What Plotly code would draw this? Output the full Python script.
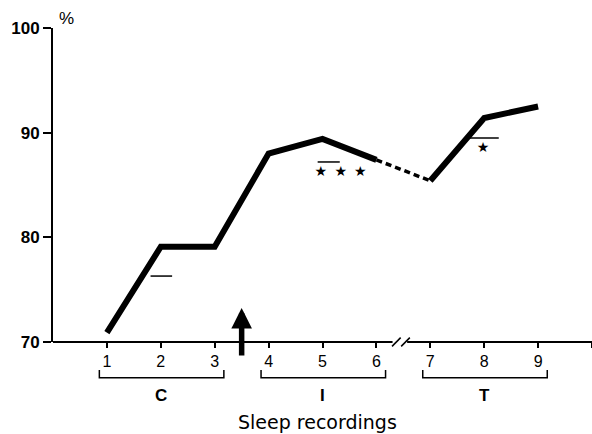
import plotly.graph_objects as go

# ---- data ----
recordings = [1, 2, 3, 4, 5, 6, 7, 8, 9]
values = [70.9, 79.1, 79.1, 88.0, 89.4, 87.4, 85.4, 91.4, 92.5]
tick_vals = [1, 2, 3, 4, 5, 6, 7, 8, 9, 10]
tick_text = ["1", "2", "3", "4", "5", "6", "7", "8", "9", ""]
y_ticks = [70, 80, 90, 100]
groups = ["C", "I", "T"]
group_start = [1, 4, 7]
group_end = [3, 6, 9]
sem_x0 = [1.81, 4.91, 7.68]
sem_x1 = [2.21, 5.32, 8.27]
sem_y = [76.3, 87.2, 89.5]
sig_x = [4.97, 5.34, 5.70, 7.98]
sig_y = [86.2, 86.2, 86.2, 88.5]
treatment_x = 3.5
break_x = 6.45

FONT = "Liberation Sans, Arial, sans-serif"

fig = go.Figure()

# solid part C+I
fig.add_trace(go.Scatter(x=recordings[:6], y=values[:6], mode="lines",
                         line=dict(color="black", width=6), cliponaxis=False,
                         hoverinfo="skip"))
# dashed gap across break
fig.add_trace(go.Scatter(x=recordings[5:7], y=values[5:7], mode="lines",
                         line=dict(color="black", width=3.5, dash="6px,4px"),
                         hoverinfo="skip"))
# solid part T
fig.add_trace(go.Scatter(x=recordings[6:], y=values[6:], mode="lines",
                         line=dict(color="black", width=6), cliponaxis=False,
                         hoverinfo="skip"))

# short horizontal reference marks
sx, sy = [], []
for a, b, y in zip(sem_x0, sem_x1, sem_y):
    sx += [a, b, None]
    sy += [y, y, None]
fig.add_trace(go.Scatter(x=sx, y=sy, mode="lines",
                         line=dict(color="black", width=1.5), hoverinfo="skip"))

# significance stars
fig.add_trace(go.Scatter(x=sig_x, y=sig_y, mode="text", text=["★"] * len(sig_x),
                         textfont=dict(family="DejaVu Sans", size=14, color="black"),
                         hoverinfo="skip"))

shapes = []
# x axis line with break
shapes.append(dict(type="line", xref="x", yref="paper", x0=0, x1=break_x - 0.15,
                   y0=0, y1=0, line=dict(color="black", width=2)))
shapes.append(dict(type="line", xref="x", yref="paper", x0=break_x + 0.12, x1=10,
                   y0=0, y1=0, line=dict(color="black", width=2)))
for off in (-0.08, 0.09):
    shapes.append(dict(type="line", xref="x", yref="paper",
                       x0=break_x + off - 0.08, x1=break_x + off + 0.08,
                       y0=-0.014, y1=0.014, line=dict(color="black", width=1.5)))

# group brackets
yb, yt = -0.114, -0.089
for s, e in zip(group_start, group_end):
    a, b = s - 0.14, e + 0.17
    shapes.append(dict(type="path", xref="x", yref="paper",
                       path=f"M {a},{yt} L {a},{yb} L {b},{yb} L {b},{yt}",
                       line=dict(color="black", width=1.5)))

annotations = []
for g, s, e in zip(groups, group_start, group_end):
    annotations.append(dict(x=(s + e) / 2, y=-0.169, xref="x", yref="paper",
                            text=f"<b>{g}</b>", showarrow=False,
                            font=dict(family=FONT, size=17, color="black"),
                            xanchor="center", yanchor="middle"))

annotations.append(dict(x=0.49, y=-0.254, xref="paper", yref="paper",
                        text="Sleep recordings", showarrow=False,
                        font=dict(family="DejaVu Sans", size=19, color="black"),
                        xanchor="center", yanchor="middle"))
annotations.append(dict(x=0.025, y=1.03, xref="paper", yref="paper",
                        text="%", showarrow=False,
                        font=dict(family=FONT, size=17, color="black"),
                        xanchor="center", yanchor="middle"))
# treatment arrow
annotations.append(dict(x=treatment_x, y=73.25, xref="x", yref="y",
                        ax=treatment_x, ay=68.57, axref="x", ayref="y",
                        showarrow=True, arrowhead=2, arrowsize=0.75,
                        arrowwidth=5.5, arrowcolor="black", text=""))

fig.update_layout(
    width=592, height=434,
    margin=dict(l=53, r=0, t=28, b=92),
    paper_bgcolor="white", plot_bgcolor="white",
    showlegend=False,
    shapes=shapes, annotations=annotations,
    xaxis=dict(range=[0, 10], tickvals=tick_vals, ticktext=tick_text,
               showline=False, showgrid=False, zeroline=False,
               ticks="outside", ticklen=5, tickwidth=1.5, tickcolor="black",
               tickfont=dict(family=FONT, size=16, color="black")),
    yaxis=dict(range=[70, 100], tickvals=y_ticks,
               showline=True, linewidth=2, linecolor="black",
               showgrid=False, zeroline=False,
               ticks="outside", ticklen=8, tickwidth=1.5, tickcolor="black",
               tickfont=dict(family=FONT, size=17, color="black", weight="bold")),
)

fig.write_html("out.html")
